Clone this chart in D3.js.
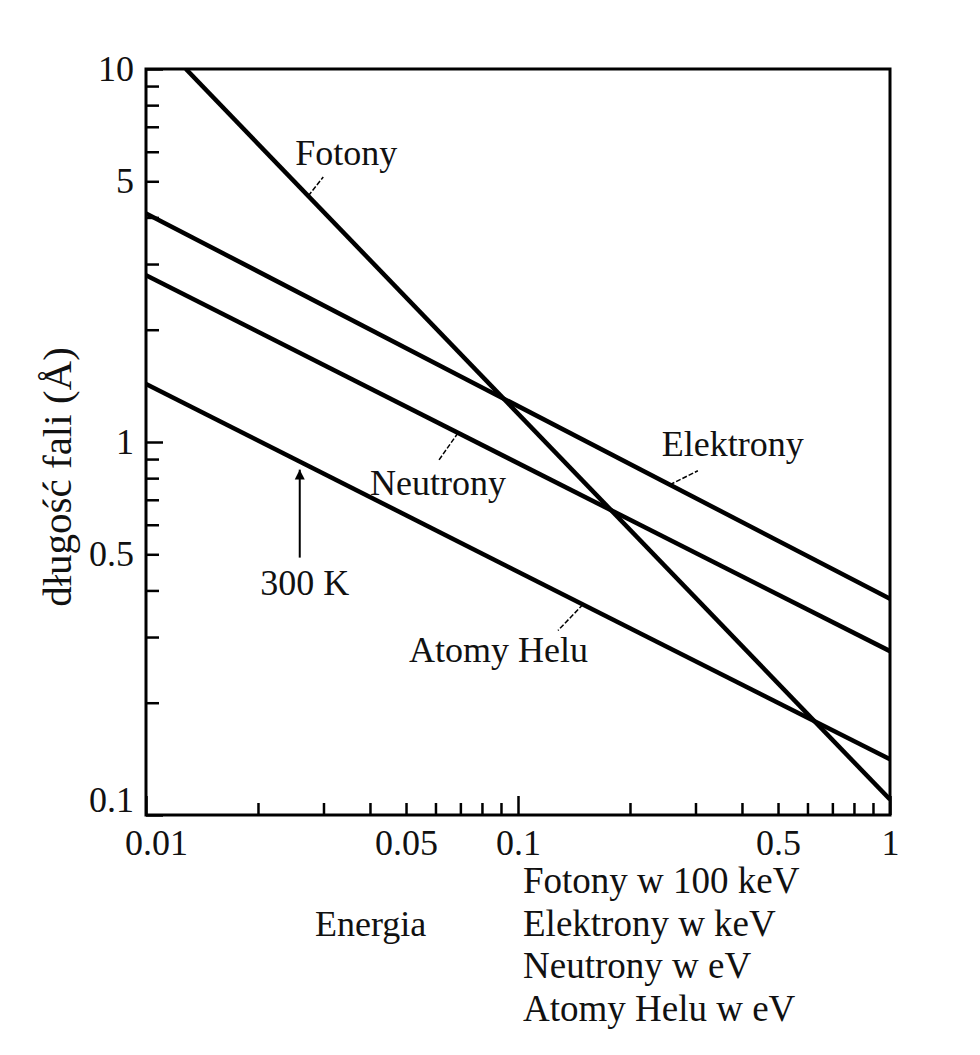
<!DOCTYPE html>
<html>
<head>
	<meta charset="utf-8">
	<title>Długość fali</title>
	<script src="https://d3js.org/d3.v7.min.js"></script>
	<style type="text/css">
		body{ margin: 0; background: #fff; }
		text{ font-family: "Liberation Serif", "Times New Roman", serif; fill: #111; }
	</style>
</head>
<body>
<script type="text/javascript">
	// energy (x) and wavelength in Å (y)
	var fotonyE    = [0.0128, 1]
	var fotonyL    = [10, 0.11]
	var elektronyE = [0.01, 1]
	var elektronyL = [4.1, 0.38]
	var neutronyE  = [0.01, 1]
	var neutronyL  = [2.8, 0.275]
	var heluE      = [0.01, 1]
	var heluL      = [1.43, 0.141]

	var xMajor  = [0.01, 0.1, 1]
	var xMinor  = [0.02,0.03,0.04,0.05,0.06,0.07,0.08,0.09,0.2,0.3,0.4,0.5,0.6,0.7,0.8,0.9]
	var xLabels = [0.01, 0.05, 0.1, 0.5, 1]
	var yMajor  = [0.1, 1, 10]
	var yMinor  = [0.2,0.3,0.4,0.5,0.6,0.7,0.8,0.9,2,3,4,5,6,7,8,9]
	var yLabels = [0.1, 0.5, 1, 5, 10]

	var unitLines = ["Fotony w 100 keV", "Elektrony w keV", "Neutrony w eV", "Atomy Helu w eV"]

	var W = 980, H = 1055
	var m = {left: 146, top: 69, right: 90, bottom: 240}

	var svg = d3.select("body").append("svg").attr("width", W).attr("height", H)

	var x = d3.scaleLog().domain([0.01, 1]).range([m.left, W - m.right])
	var y = d3.scaleLog().domain([0.1, 10]).range([H - m.bottom, m.top])

	svg.append("clipPath").attr("id", "plot")
		.append("rect").attr("x", x(0.01)).attr("y", y(10))
		.attr("width", x(1) - x(0.01)).attr("height", y(0.1) - y(10))

	var fmt = function(d){ return String(d) }

	// x ticks (inward)
	svg.append("g").attr("transform", "translate(0," + y(0.1) + ")")
		.call(d3.axisBottom(x).tickValues(xMinor).tickSizeInner(-12).tickSizeOuter(0).tickFormat(""))
	svg.append("g").attr("transform", "translate(0," + y(0.1) + ")")
		.call(d3.axisBottom(x).tickValues(xMajor).tickSizeInner(-19).tickSizeOuter(0).tickFormat(""))
	var xl = svg.append("g").attr("transform", "translate(0," + y(0.1) + ")")
		.call(d3.axisBottom(x).tickValues(xLabels).tickSize(0).tickPadding(14).tickFormat(fmt))
	xl.selectAll(".tick text").filter(function(d){ return d == 0.01 }).attr("dx", 10)

	// y ticks (inward)
	svg.append("g").attr("transform", "translate(" + x(0.01) + ",0)")
		.call(d3.axisLeft(y).tickValues(yMinor).tickSizeInner(-13).tickSizeOuter(0).tickFormat(""))
	svg.append("g").attr("transform", "translate(" + x(0.01) + ",0)")
		.call(d3.axisLeft(y).tickValues(yMajor).tickSizeInner(-17).tickSizeOuter(0).tickFormat(""))
	var yl = svg.append("g").attr("transform", "translate(" + x(0.01) + ",0)")
		.call(d3.axisLeft(y).tickValues(yLabels).tickSize(0).tickPadding(12).tickFormat(fmt))
	yl.selectAll(".tick text").filter(function(d){ return d == 0.1 }).attr("y", -15)

	svg.selectAll(".domain").remove()
	svg.selectAll(".tick line").attr("stroke", "#000").attr("stroke-width", 2.5)
	svg.selectAll(".tick text").style("font-size", "36px")
		.style("font-family", "'Liberation Serif', serif").attr("fill", "#111")

	// frame
	svg.append("rect").attr("x", x(0.01)).attr("y", y(10))
		.attr("width", x(1) - x(0.01)).attr("height", y(0.1) - y(10))
		.attr("fill", "none").attr("stroke", "#000").attr("stroke-width", 3)

	var line = d3.line().x(function(d){ return x(d[0]) }).y(function(d){ return y(d[1]) })
	var series = [
		{name: "Fotony", e: fotonyE, l: fotonyL},
		{name: "Elektrony", e: elektronyE, l: elektronyL},
		{name: "Neutrony", e: neutronyE, l: neutronyL},
		{name: "Atomy Helu", e: heluE, l: heluL}
	]
	svg.append("g").attr("clip-path", "url(#plot)")
		.selectAll("path").data(series).enter().append("path")
		.attr("d", function(s){ return line(d3.zip(s.e, s.l)) })
		.attr("fill", "none").attr("stroke", "#000").attr("stroke-width", 4.5)

	// value of a series at energy e (straight in log-log)
	function at(s, e){
		var t = (Math.log(e) - Math.log(s.e[0])) / (Math.log(s.e[1]) - Math.log(s.e[0]))
		return Math.exp(Math.log(s.l[0]) + t * (Math.log(s.l[1]) - Math.log(s.l[0])))
	}

	// labels with leader lines: energy on the line, leader end offset, text offset
	var notes = [
		{s: 0, e: 0.0273, dx: 15,  dy: -19, tx: -13,  ty: -31},
		{s: 1, e: 0.256,  dx: 28,  dy: -14, tx: -8,   ty: -29},
		{s: 2, e: 0.069,  dx: -19, dy: 27,  tx: -88,  ty: 62},
		{s: 3, e: 0.1495, dx: -25, dy: 26,  tx: -174, ty: 58}
	]
	notes.forEach(function(n){
		var s = series[n.s]
		var px = x(n.e), py = y(at(s, n.e))
		svg.append("line").attr("x1", px).attr("y1", py).attr("x2", px + n.dx).attr("y2", py + n.dy)
			.attr("stroke", "#000").attr("stroke-width", 1.5).attr("stroke-dasharray", "5,2")
		svg.append("text").attr("x", px + n.tx).attr("y", py + n.ty)
			.style("font-size", "36px").text(s.name)
	})

	// 300 K arrow (kT = 0.0259 eV) onto the helium line
	svg.append("defs").append("marker").attr("id", "head")
		.attr("viewBox", "0 0 10 10").attr("refX", 10).attr("refY", 5)
		.attr("markerWidth", 5).attr("markerHeight", 8).attr("orient", "auto")
		.append("path").attr("d", "M0,0L10,5L0,10Z").attr("fill", "#000")
	var kT = 0.0259
	var ax = x(kT), ay = y(at(series[3], kT))
	svg.append("line").attr("x1", ax).attr("y1", ay + 96).attr("x2", ax).attr("y2", ay + 8)
		.attr("stroke", "#000").attr("stroke-width", 2).attr("marker-end", "url(#head)")
	svg.append("text").attr("x", ax + 5).attr("y", ay + 133).attr("text-anchor", "middle")
		.style("font-size", "36px").text("300 K")

	// axis titles
	svg.append("text").attr("transform", "translate(71," + 477 + ") rotate(-90)")
		.attr("text-anchor", "middle").style("font-size", "41px").text("długość fali (Å)")

	svg.append("text").attr("x", 315).attr("y", 936).style("font-size", "36px").text("Energia")
	svg.selectAll(".unit").data(unitLines).enter().append("text").attr("class", "unit")
		.attr("x", 523).attr("y", function(d, i){ return 893 + i * 42.5 })
		.style("font-size", "37px").text(function(d){ return d })
</script>
</body>
</html>
